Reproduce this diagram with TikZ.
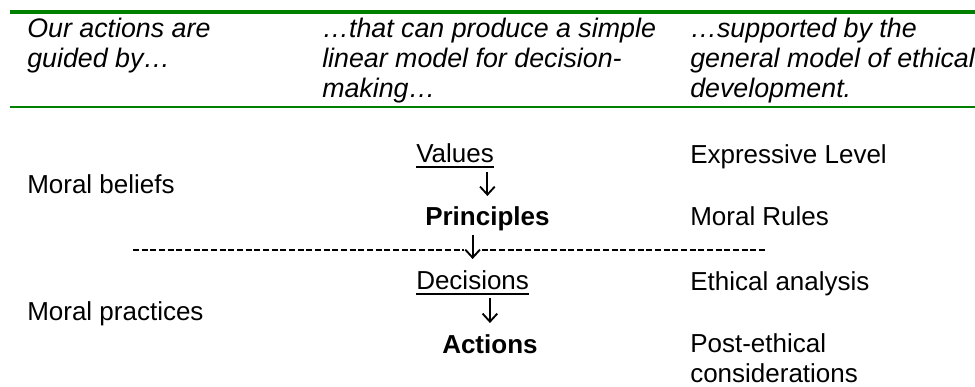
\documentclass[tikz,border=0pt]{standalone}
\usepackage{fontspec}
\setmainfont{Liberation Sans}
\usepackage{tikz}
\usetikzlibrary{arrows.meta,calc,positioning}
\usepackage{xcolor}
\definecolor{rulegreen}{RGB}{0,128,0}
\tikzstyle{headtext} = [inner sep=0pt, anchor=base west, align=left, font=\fontsize{20.1pt}{22.5pt}\selectfont\itshape]
\tikzstyle{bodytext} = [inner sep=0pt, anchor=base west, align=left, font=\fontsize{19.5pt}{22.5pt}\selectfont]
\tikzstyle{steptext} = [bodytext, font=\fontsize{19.5pt}{22.5pt}\selectfont\bfseries]
\tikzstyle{flowarrow} = [line width=1.4pt, -{Straight Barb[length=6pt, width=11pt, line width=1.4pt]}]
\tikzstyle{greenrule} = [draw=rulegreen]
\tikzstyle{cutline} = [line width=1.6pt, dash pattern=on 4.5pt off 2pt]

\begin{document}
\begin{tikzpicture}[x=0.75pt, y=-0.75pt]
\useasboundingbox (0,0) rectangle (975,386);

% table head (base = last line)
\draw[greenrule, line width=3pt] (10,12) -- (975,12);
\node[headtext] (guide) at (27,67) {Our actions are\\guided by…};
\node[headtext] (model) at (322,97) {…that can produce a simple\\linear model for decision-\\making…};
\node[headtext] (ethic) at (690,97) {…supported by the\\general model of ethical\\development.};
\draw[greenrule, line width=2.2pt] (10,107) -- (975,107);

% left column
\node[bodytext] (beliefs) at (27,193) {Moral beliefs};
\node[bodytext] (practices) at (27,320) {Moral practices};

% middle column: the linear model
\node[bodytext] (values) at (416,162) {Values};
\node[steptext] (principles) at (425,225) {Principles};
\node[bodytext] (decisions) at (416,289) {Decisions};
\node[steptext] (actions) at (442,353) {Actions};
\draw[line width=1.5pt] ($(values.base west)+(0,5)$) -- ($(values.base east)+(0,5)$);
\draw[line width=1.5pt] ($(decisions.base west)+(0,4.5)$) -- ($(decisions.base east)+(0,4.5)$);

\coordinate (cutL) at (133,250);
\coordinate (cutR) at (767,250);
\draw[cutline] (cutL) -- ($(cutL -| decisions)+(-9,0)$);
\draw[cutline] ($(cutR -| decisions)+(9,0)$) -- (cutR);

\draw[flowarrow] ($(values.base -| principles)+(0,10)$) -- ($(principles.base)+(0,-29)$);
\draw[flowarrow] ($(principles.base -| decisions)+(0,10)$) -- ($(decisions.base)+(0,-30)$);
\draw[flowarrow] ($(decisions.base -| actions)+(0,9)$) -- ($(actions.base)+(0,-30)$);

% right column
\node[bodytext] (expressive) at (690,163) {Expressive Level};
\node[bodytext] (rules) at (690,225) {Moral Rules};
\node[bodytext] (analysis) at (690,290) {Ethical analysis};
\node[bodytext] (post) at (690,382) {Post-ethical\\considerations};
\end{tikzpicture}
\end{document}
